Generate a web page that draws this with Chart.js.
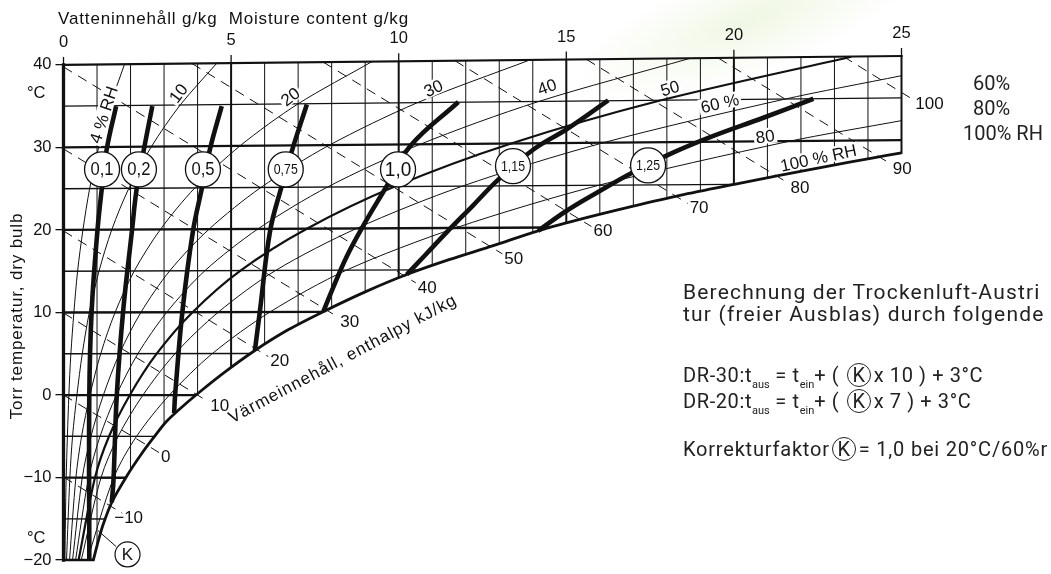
<!DOCTYPE html>
<html lang="de">
<head>
<meta charset="utf-8">
<title>h,x-Diagramm – Korrekturfaktor K</title>
<script src="https://cdn.jsdelivr.net/npm/chart.js@4.4.1/dist/chart.umd.min.js"></script>
<style>
  html, body { margin:0; padding:0; background:#fff; overflow:hidden; }
  #stage { position:relative; width:1051px; height:574px; overflow:hidden; background:#fff; }
  #leaf { position:absolute; left:560px; top:-35px; width:380px; height:110px; border-radius:50%;
          background: radial-gradient(ellipse at center, rgba(196,224,150,0.26) 0%, rgba(196,224,150,0.09) 45%, rgba(255,255,255,0) 70%);
          transform: rotate(-20deg); }
  #chart { position:absolute; left:0; top:0; }
  .lab { position:absolute; white-space:pre; line-height:1; color:#111;
         font-family:"Liberation Sans", Arial, Helvetica, sans-serif; }
  .din { position:absolute; white-space:pre; line-height:1; color:#222;
         font-family:Roboto, "Noto Sans", sans-serif; }
  .din sub { font-size:11px; letter-spacing:0; vertical-align:baseline; position:relative; top:6px; }
  .kc { display:inline-block; width:22px; height:22px; border:1.3px solid #222; border-radius:50%;
        text-align:center; line-height:22px; margin:0 3px 0 2px; letter-spacing:0; }
</style>
</head>
<body>
<div id="stage">
  <div id="leaf"></div>
  <canvas id="chart" width="1051" height="574"></canvas>

  <div class="lab" style="left:58px;top:9.6px;font-size:17px;letter-spacing:0.85px">Vatteninnehåll g/kg  Moisture content g/kg</div>
  <div class="lab" style="left:16px;top:316px;font-size:17px;letter-spacing:0.85px;transform:translate(-50%,-50%) rotate(-90deg)">Torr temperatur, dry bulb</div>
  <div class="lab" style="left:27px;top:83.5px;font-size:16.5px">°C</div>
  <div class="lab" style="left:27px;top:529px;font-size:16.5px">°C</div>

  <div class="din" style="left:973px;top:73px;font-size:20px">60%</div>
  <div class="din" style="left:973px;top:98px;font-size:20px">80%</div>
  <div class="din" style="left:963px;top:123px;font-size:20px">100% RH</div>

  <div class="din" style="left:683px;top:282.3px;font-size:21px;letter-spacing:1.2px">Berechnung der Trockenluft-Austri</div>
  <div class="din" style="left:683px;top:304.3px;font-size:21px;letter-spacing:1.2px">tur (freier Ausblas) durch folgende</div>
  <div class="din" style="left:683px;top:363.2px;font-size:20px;letter-spacing:0.6px">DR-30:t<sub>aus</sub> = t<sub>ein</sub>+ ( <span class="kc">K</span>x 10 ) + 3°C</div>
  <div class="din" style="left:683px;top:389.2px;font-size:20px;letter-spacing:0.6px">DR-20:t<sub>aus</sub> = t<sub>ein</sub>+ ( <span class="kc">K</span>x 7 ) + 3°C</div>
  <div class="din" style="left:683px;top:437.2px;font-size:20px;letter-spacing:0.8px">Korrekturfaktor<span class="kc">K</span>= 1,0 bei 20°C/60%r</div>
</div>

<script>
// ---------------------------------------------------------------
// Axis ticks
// ---------------------------------------------------------------
const moistureTicks = [0, 5, 10, 15, 20, 25];          // g/kg, top axis

// ---------------------------------------------------------------
// Relative humidity curves  [moisture g/kg, dry-bulb chart value °C]
// ---------------------------------------------------------------
const rh100 = [[0.89,-20],[1.05,-17.5],[1.19,-15.6],[1.44,-13.0],[1.89,-9.8],[2.35,-7.0],[2.68,-5.2],
               [3.05,-3.3],[3.45,-1.75],[4.07,0.4],[4.85,2.9],[5.71,5.4],[6.7,7.9],[7.75,10.1],[9.0,12.5],
               [10.24,14.6],[11.5,16.4],[12.82,18.1],[14.16,19.9],[15.6,21.5],[17.0,22.9],[18.39,24.2],
               [20.01,25.53],[21.36,26.6],[22.7,27.64],[24.12,28.71],[25,29.35]];
const rh80 = [[0.71,-20],[1.5,-10],[2.18,-5],[3.16,0],[4.44,5.02],[6.16,10.06],[8.44,15.13],[11.7,20.25],
              [15.97,25.42],[21.58,30.68],[25,33.25]];
const rh60 = [[0.53,-20],[1.12,-10],[1.63,-5],[2.37,0],[3.33,5.02],[4.62,10.05],[6.33,15.1],[8.74,20.18],
              [11.9,25.31],[16.05,30.51],[21.45,35.79],[25,38.69]];
const rh50 = [[0.45,-20],[0.94,-10],[1.36,-5],[1.98,0],[2.78,5.01],[3.85,10.04],[5.28,15.08],[7.26,20.15],
              [9.88,25.26],[13.31,30.42],[17.77,35.65],[23.5,40.99]];
const rh40 = [[0.36,-20],[0.75,-10],[1.09,-5],[1.58,0],[2.22,5.01],[3.08,10.03],[4.22,15.07],[5.8,20.12],
              [7.88,25.21],[10.61,30.33],[14.14,35.52],[18.68,40.78]];
const rh30 = [[0.27,-20],[0.56,-10],[0.82,-5],[1.19,0],[1.67,5.01],[2.31,10.02],[3.17,15.05],[4.34,20.09],
              [5.89,25.15],[7.92,30.25],[10.54,35.39],[13.9,40.58]];
const rh20 = [[0.18,-20],[0.37,-10],[0.54,-5],[0.79,0],[1.11,5.01],[1.54,10.02],[2.11,15.03],[2.89,20.06],
              [3.92,25.1],[5.26,30.17],[6.99,35.26],[9.2,40.39]];
const rh10 = [[0.09,-20],[0.19,-10],[0.27,-5],[0.4,0],[0.56,5],[0.77,10.01],[1.06,15.02],[1.44,20.03],
              [1.95,25.05],[2.62,30.08],[3.48,35.13],[4.57,40.19]];
const rh04 = [[0.04,-20],[0.08,-10],[0.16,0],[0.22,5],[0.31,10],[0.42,15],[0.58,20.01],[0.78,25.02],
              [1.05,30.03],[1.39,35.05],[1.82,40.08]];

// ---------------------------------------------------------------
// Dry-bulb isotherms, every 5 °C (ends on the saturation curve)
// ---------------------------------------------------------------
const isoMinor = [[[0,-15],[1.25,-15.02]], [[0,-5],[2.72,-5.01]], [[0,5],[5.58,5.03]],
                  [[0,15],[10.64,15.17]], [[0,25],[20.01,25.53]], [[0,35],[25,36.0]]];
const isoMajor = [[[0,-10],[1.86,-10.02]], [[0,0],[3.95,0]], [[0,10],[7.74,10.08]],
                  [[0,20],[14.52,20.3]], [[0,30],[25,30.88]]];
const iso40    = [[0,40],[25,41.08]];
const isoM20   = [[0,-20],[0.89,-20]];
const edgeLeft  = [[0,-20],[0,40]];
const edgeRight = [[25,29.35],[25,41.08]];

// ---------------------------------------------------------------
// Constant moisture lines (g/kg): lower end on saturation, upper end on 40 °C
// ---------------------------------------------------------------
const moistureLines = [1,2,3,4,5,6,7,8,9,10,11,12,13,14,15,16,17,18,19,20,21,22,23,24];
const moistureLow   = [-18.28,-9.13,-3.56,0.16,3.34,6.13,8.53,10.58,12.5,14.19,15.69,17.04,
                       18.34,19.68,20.83,21.9,22.9,23.84,24.7,25.52,26.31,27.1,27.87,28.62];
const moistureHigh  = [40.04,40.09,40.13,40.17,40.22,40.26,40.3,40.35,40.39,40.43,40.48,40.52,
                       40.56,40.6,40.65,40.69,40.73,40.78,40.82,40.86,40.91,40.95,40.99,41.04];

// ---------------------------------------------------------------
// Enthalpy lines, kJ/kg  (start, end on saturation, short run-out)
// ---------------------------------------------------------------
const enthalpyValues = [-10, 0, 10, 20, 30, 40, 50, 60, 70, 80, 90, 100];
const enthalpyLines = [
  [[0,-9.94],[1.4,-13.45],[1.75,-14.32]],
  [[0,0],[2.5,-6.1],[2.85,-6.97]],
  [[0,9.94],[3.97,0.07],[4.32,-0.8]],
  [[0,19.88],[5.76,5.53],[6.11,4.66]],
  [[0,29.82],[7.85,10.29],[8.2,9.42]],
  [[0,39.76],[10.16,14.46],[10.51,13.59]],
  [[3.83,40.17],[12.74,17.98],[13.09,17.11]],
  [[7.75,40.33],[15.4,21.29],[15.75,20.42]],
  [[11.68,40.5],[18.27,24.09],[18.62,23.22]],
  [[15.6,40.67],[21.28,26.53],[21.63,25.66]],
  [[19.53,40.84],[24.33,28.87],[24.68,28.0]],
  [[23.27,41.0],[25,36.66],[25.35,35.79]]
];

// ---------------------------------------------------------------
// Correction factor K curves
// ---------------------------------------------------------------
const kNames = ['0,1', '0,2', '0,5', '0,75', '1,0', '1,15', '1,25'];
const k010 = [[1.57,35.0],[1.29,29.8],[1.14,24.9],[1.01,19.8],[0.84,10.2],[0.77,0],[0.77,-20]];
const k020 = [[2.65,35.0],[2.40,29.8],[2.18,24.9],[2.04,19.8],[1.78,10.2],[1.59,0],[1.49,-10.4],[1.44,-13.0]];
const k050 = [[4.72,35.0],[4.37,29.8],[4.12,24.9],[3.86,19.8],[3.55,10.2],[3.33,0],[3.30,-2.2]];
const k075 = [[7.26,35.2],[6.83,29.8],[6.48,24.9],[6.16,19.8],[5.86,10.2],[5.71,5.4]];
const k100 = [[11.78,35.5],[10.34,30.15],[9.64,25.3],[8.94,20.5],[8.45,16.8],[8.0,12.6],[7.75,10.1]];
const k115 = [[16.25,35.7],[15.01,32.2],[14.02,29.75],[12.97,26.1],[12.2,22.9],[11.45,19.8],[10.8,17.0],[10.24,14.6]];
const k125 = [[22.37,35.9],[20.88,33.6],[19.39,31.4],[18.2,29.4],[16.95,26.9],[15.95,24.6],[15.0,22.3],[14.16,19.9]];
const kCurves = [k010, k020, k050, k075, k100, k115, k125];

// ---------------------------------------------------------------
// Label placement (chart units) for the annotations
// ---------------------------------------------------------------
const rhTexts   = ['4 % RH', '10', '20', '30', '40', '50', '60 %', '80', '100 % RH'];
const rhTextAt  = [[1.19,33.97],[3.42,36.59],[6.76,36.18],[11.03,37.19],[14.42,37.38],[18.09,37.19],
                   [19.58,35.38],[20.93,31.36],[22.52,28.75]];
const rhTextTilt = [-72, -53, -37, -25, -20, -16, -13, -8, -12];
const kTagAt = [[1.15,27.34],[2.25,27.34],[4.16,27.34],[6.63,27.34],[9.98,27.34],[13.41,27.74],[17.44,27.82]];

// ---------------------------------------------------------------
const FONT = '"Liberation Sans", Arial, Helvetica, sans-serif';
Chart.defaults.font.family = FONT;

const toPts = a => a.map(([x, y]) => ({x, y}));
function joinLines(lines) {
  const out = [];
  lines.forEach((ln, i) => {
    if (i) out.push({x: ln[0][0], y: null});
    ln.forEach(([x, y]) => out.push({x, y}));
  });
  return out;
}
function lineSet(key, data, width, extra) {
  return Object.assign({
    key, data, showLine: true, borderColor: '#111', backgroundColor: '#111',
    borderWidth: width, pointRadius: 0, pointHoverRadius: 0, fill: false,
    tension: 0, spanGaps: false, clip: false
  }, extra || {});
}

const gridThin  = moistureLines.map((g, i) => [[g, moistureLow[i]], [g, moistureHigh[i]]]).filter((_, i) => moistureLines[i] % 5);
const gridThick = moistureLines.map((g, i) => [[g, moistureLow[i]], [g, moistureHigh[i]]]).filter((_, i) => !(moistureLines[i] % 5));

// listed from bottom layer to top layer
const layers = [
  lineSet('enthalpy', joinLines(enthalpyLines), 1, {borderDash: [10, 7]}),
  lineSet('gridThin', joinLines(gridThin), 1),
  lineSet('gridThick', joinLines(gridThick), 2),
  ...[rh04, rh10, rh20, rh30, rh40, rh60, rh80].map((c, i) => lineSet('rh' + i, toPts(c), 1, {tension: 0.3})),
  lineSet('rh50', toPts(rh50), 2.2, {tension: 0.3}),
  lineSet('isoMinor', joinLines(isoMinor), 1.4),
  lineSet('isoMajor', joinLines(isoMajor), 2.3),
  lineSet('rh100', toPts(rh100), 2.8, {tension: 0.3}),
  lineSet('edgeLeft', toPts(edgeLeft), 3.3, {borderCapStyle: 'square'}),
  lineSet('iso40', toPts(iso40), 2.2, {borderCapStyle: 'square'}),
  lineSet('edgeRight', toPts(edgeRight), 2, {borderCapStyle: 'square'}),
  lineSet('isoM20', toPts(isoM20), 2.5, {borderCapStyle: 'square'}),
  ...kCurves.map((c, i) => lineSet('k' + i, toPts(c), 4.6, {tension: 0.4}))
];

const minusSign = v => String(v).replace('-', '\u2212');

const chartText = {
  id: 'chartText',
  afterDatasetDraw(chart, args) {
    if (chart.data.datasets[args.index].key !== 'isoMajor') return;
    const {ctx} = chart, xs = chart.scales.x, ys = chart.scales.y;
    ctx.save();
    ctx.font = '17px ' + FONT;
    rhTexts.forEach((t, i) => {
      ctx.save();
      ctx.translate(xs.getPixelForValue(rhTextAt[i][0]), ys.getPixelForValue(rhTextAt[i][1]));
      ctx.rotate(rhTextTilt[i] * Math.PI / 180);
      const w = ctx.measureText(t).width;
      ctx.fillStyle = '#fff';
      ctx.fillRect(-w / 2 - 2, -8, w + 4, 15.5);
      ctx.fillStyle = '#111';
      ctx.textAlign = 'center';
      ctx.textBaseline = 'alphabetic';
      ctx.fillText(t, 0, 6);
      ctx.restore();
    });
    ctx.restore();
  },
  afterDatasetsDraw(chart) {
    const {ctx} = chart, xs = chart.scales.x, ys = chart.scales.y;
    const X = v => xs.getPixelForValue(v), Y = v => ys.getPixelForValue(v);
    ctx.save();
    ctx.fillStyle = '#111';
    ctx.strokeStyle = '#111';

    // moisture scale on top, following the 40 °C line
    ctx.font = '16.5px ' + FONT;
    ctx.textAlign = 'center';
    ctx.textBaseline = 'middle';
    ctx.lineWidth = 1.3;
    const [a, b] = iso40;
    moistureTicks.forEach(v => {
      const yTop = a[1] + (b[1] - a[1]) * (v - a[0]) / (b[0] - a[0]);
      const px = X(v), py = Y(yTop);
      ctx.beginPath(); ctx.moveTo(px, py); ctx.lineTo(px, py - 8); ctx.stroke();
      ctx.fillText(String(v), px, py - 22.5);
    });

    // enthalpy values at the run-out of each line
    ctx.font = '17px ' + FONT;
    ctx.textAlign = 'left';
    ctx.textBaseline = 'middle';
    enthalpyLines.forEach((ln, i) => {
      const end = ln[ln.length - 1];
      const v = enthalpyValues[i];
      let x0 = X(end[0]) + 2;
      const y0 = Y(end[1]) + 5;
      if (v < 0) x0 -= ctx.measureText('\u2212').width;
      ctx.fillText(minusSign(v), x0, y0);
    });

    // K circles on the curves
    kNames.forEach((name, i) => {
      const px = X(kTagAt[i][0]), py = Y(kTagAt[i][1]);
      ctx.beginPath();
      ctx.arc(px, py, 17.5, 0, Math.PI * 2);
      ctx.fillStyle = '#fff'; ctx.fill();
      ctx.lineWidth = 1.3; ctx.stroke();
      const size = name.length > 3 ? 14.5 : (name === '1,0' ? 20 : 17.5);
      const sx = name.length > 3 ? 0.85 : 0.95;
      ctx.save();
      ctx.translate(px, py + 1);
      ctx.scale(sx, 1);
      ctx.font = size + 'px ' + FONT;
      ctx.textAlign = 'center';
      ctx.textBaseline = 'middle';
      ctx.fillStyle = '#111';
      ctx.fillText(name, 0, 0);
      ctx.restore();
    });

    // enthalpy axis caption along the saturation curve
    ctx.save();
    ctx.translate(X(8.40), Y(3.83));
    ctx.rotate(-28 * Math.PI / 180);
    ctx.font = '17px ' + FONT;
    if ('letterSpacing' in ctx) ctx.letterSpacing = '1px';
    ctx.textAlign = 'center';
    ctx.textBaseline = 'alphabetic';
    ctx.fillStyle = '#111';
    ctx.fillText('Värmeinnehåll, enthalpy kJ/kg', 0, 0);
    ctx.restore();

    // K marker pointing at the curves
    ctx.lineWidth = 1;
    ctx.beginPath();
    ctx.moveTo(X(1.03), Y(-16.43));
    ctx.lineTo(X(1.57), Y(-18.36));
    ctx.stroke();
    ctx.beginPath();
    ctx.arc(X(1.91), Y(-19.31), 12.5, 0, Math.PI * 2);
    ctx.fillStyle = '#fff'; ctx.fill();
    ctx.lineWidth = 1.2; ctx.stroke();
    ctx.fillStyle = '#111';
    ctx.font = '17px ' + FONT;
    ctx.textAlign = 'center';
    ctx.textBaseline = 'middle';
    ctx.fillText('K', X(1.91), Y(-19.31) + 1);

    ctx.restore();
  }
};

new Chart(document.getElementById('chart'), {
  type: 'scatter',
  data: { datasets: layers.slice().reverse() },
  options: {
    responsive: false,
    animation: false,
    devicePixelRatio: 1,
    events: [],
    layout: { padding: { left: 0, right: 149.5, top: 55, bottom: 11.3 } },
    plugins: { legend: { display: false }, tooltip: { enabled: false } },
    elements: { point: { radius: 0 }, line: { capBezierPoints: false } },
    scales: {
      x: { type: 'linear', min: 0, max: 25, display: false },
      y: {
        type: 'linear', min: -20, max: 41.2, position: 'left',
        afterFit: s => { s.width = 63.5; },
        border: { display: false },
        grid: { drawOnChartArea: false, drawTicks: true, tickLength: 8, color: '#111', lineWidth: 1.3 },
        ticks: {
          stepSize: 10, includeBounds: false, padding: 4, color: '#111',
          font: { family: FONT, size: 16.5 },
          callback: v => minusSign(v)
        }
      }
    }
  },
  plugins: [chartText]
});
</script>
</body>
</html>
